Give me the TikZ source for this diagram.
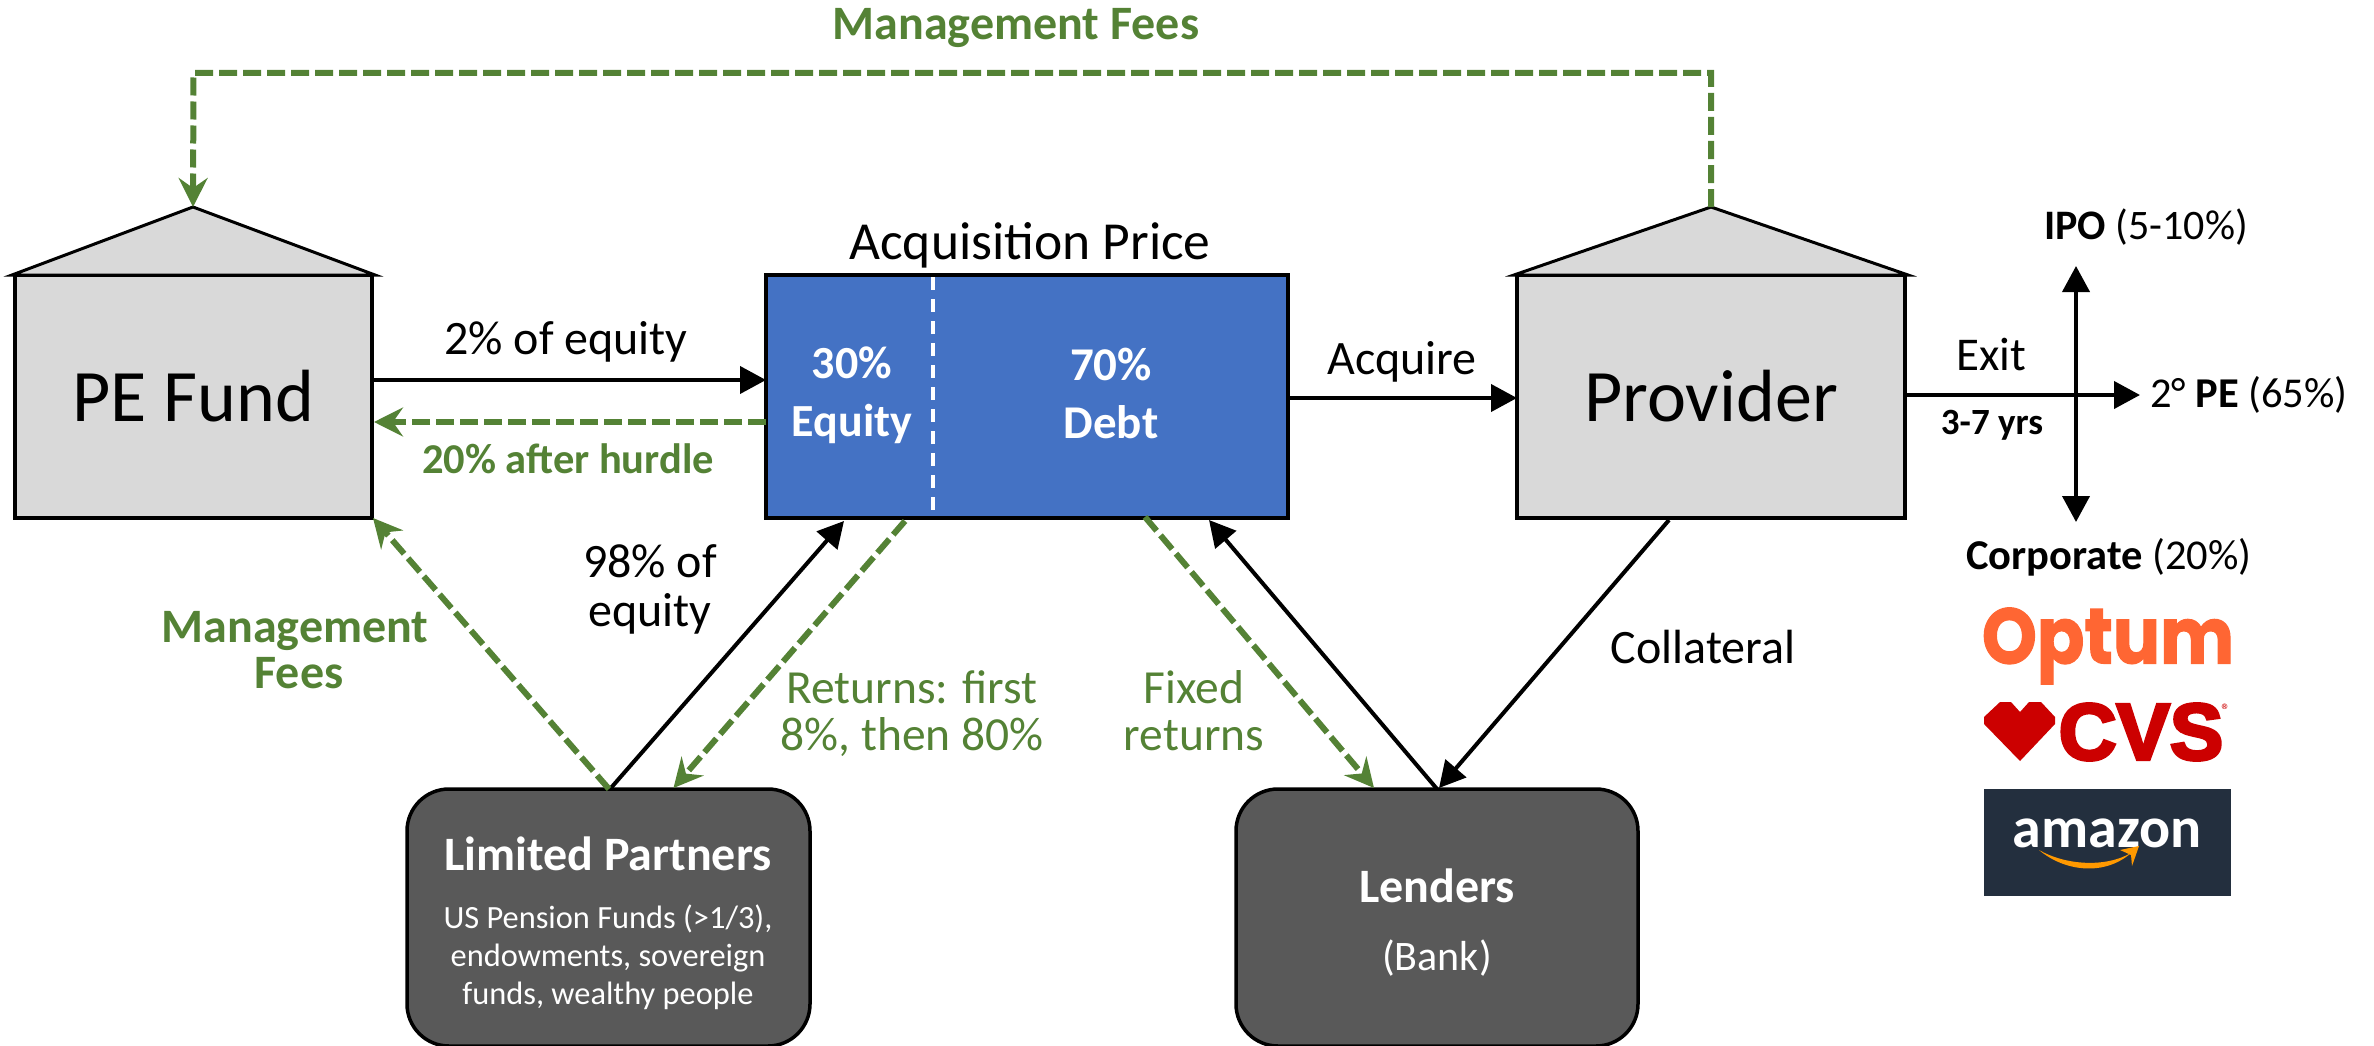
\documentclass[tikz,border=0pt]{standalone}
\usepackage{fontspec}
\setmainfont{Carlito}
\newfontfamily\optumfont[FakeBold=1.5]{Poppins}
\newfontfamily\cvsfont[FakeBold=4]{Liberation Sans}
\usetikzlibrary{arrows.meta,calc}
\definecolor{boxgray}{HTML}{D9D9D9}
\definecolor{boxblue}{HTML}{4472C4}
\definecolor{boxdark}{HTML}{595959}
\definecolor{feegreen}{HTML}{548235}
\definecolor{cvsred}{HTML}{CC0000}
\definecolor{optumorange}{HTML}{FF6633}
\definecolor{amznavy}{HTML}{232F3E}
\definecolor{amzorange}{HTML}{FF9900}
\newcommand{\fsz}[1]{\fontsize{#1}{#1}\selectfont}
\tikzset{
  x=1pt,y=-1pt,
  housebody/.style={draw=black,fill=boxgray,line width=3.5pt,inner sep=0pt,outer sep=0pt,font=\fsz{74}},
  roofshape/.style={draw=black,fill=boxgray,line width=3pt,line join=miter},
  pricebox/.style={draw=black,fill=boxblue,line width=3.5pt,inner sep=0pt,outer sep=0pt},
  partybox/.style={draw=black,fill=boxdark,line width=3.5pt,rounded corners=42pt,inner sep=0pt,outer sep=0pt},
  flow/.style={draw=black,line width=4pt,-{Triangle[length=26pt,width=27pt]}},
  fee/.style={draw=feegreen,line width=6pt,dash pattern=on 18pt off 6pt,-{Stealth[length=29pt,width=29pt,inset=10pt]}},
  lbl/.style={inner sep=0pt,outer sep=0pt,align=center,font=\fontsize{48}{48}\selectfont},
  lblgreen/.style={lbl,text=feegreen},
  lblwhite/.style={lbl,text=white},
}
\begin{document}
\begin{tikzpicture}
\useasboundingbox (0,0) rectangle (2374,1046);
% main nodes
\node[housebody,minimum width=357pt,minimum height=243pt] (pe) at (193.5,396.5) {PE Fund};
\node[housebody,minimum width=388pt,minimum height=243pt] (prov) at (1711,396.5) {Provider};
\node[pricebox,minimum width=522pt,minimum height=243pt] (price) at (1027,396.5) {};
\node[partybox,minimum width=403pt,minimum height=257pt] (lp) at (608.5,917.5) {};
\node[partybox,minimum width=402pt,minimum height=257pt] (bank) at (1437,917.5) {};
% roofs
\coordinate (peapex) at (193,207);
\coordinate (provapex) at (1711,207);
\draw[roofshape] ([xshift=-3pt]pe.north west) -- (peapex) -- ([xshift=3pt]pe.north east) -- cycle;
\draw[roofshape] ([xshift=-3pt]prov.north west) -- (provapex) -- ([xshift=3pt]prov.north east) -- cycle;
% divider
\draw[white,line width=3.5pt,dash pattern=on 13pt off 9pt] ([xshift=167pt,yshift=-2pt]price.north west) -- ([xshift=167pt,yshift=2pt]price.south west);
% management fee over the top
\draw[fee] (provapex) -- (prov.north |- 0,73) -- (pe.north |- 0,73) -- (peapex);
% horizontal flows
\draw[flow] ([yshift=16.5pt]pe.east) -- ([yshift=16.5pt]price.west);
\draw[fee] ([yshift=-25.5pt]price.west) -- ([yshift=-25.5pt,xshift=2pt]pe.east);
\draw[flow] ([yshift=-1.5pt]price.east) -- ([yshift=-1.5pt]prov.west);
% limited partners
\draw[flow] ([xshift=1.5pt]lp.north) -- ([xshift=78pt,yshift=-3pt]price.south west);
\draw[fee] ([xshift=139pt,yshift=-3pt]price.south west) -- ([xshift=65pt,yshift=1pt]lp.north);
\draw[fee] ([xshift=0.5pt]lp.north) -- ([xshift=1pt,yshift=0pt]pe.south east);
% lenders
\draw[fee] ([xshift=379pt,yshift=1pt]price.south west) -- ([xshift=-63pt,yshift=1pt]bank.north);
\draw[flow] (bank.north) -- ([xshift=443pt,yshift=-2pt]price.south west);
\draw[flow] ([xshift=152pt,yshift=-2pt]prov.south west) -- ([xshift=2pt,yshift=1pt]bank.north);
% exit
\coordinate (exitcross) at (2076,395);
\coordinate (exitend) at (2140,395);
\coordinate (exitup) at (2076,266);
\coordinate (exitdown) at (2076,522);
\draw[flow] ([yshift=1.5pt]prov.east) -- (exitend);
\draw[flow] (exitcross) -- (exitup);
\draw[flow] (exitcross) -- (exitdown);
% labels
\node[lblgreen,font=\bfseries\fontsize{48}{48}\selectfont] (topfee) at (1016,28) {Management Fees};
\node[lbl,font=\fontsize{53.5}{54}\selectfont] (pricelbl) at (1030,245) {Acquisition Price};
\node[lbl] (twopct) at (566,342) {2\% of equity};
\node[lblgreen,font=\bfseries\fontsize{42.5}{46}\selectfont] (hurdle) at (568,459) {20\% after hurdle};
\node[lblwhite,font=\bfseries\fontsize{46}{58}\selectfont] (eq) at (852,395) {30\%\\Equity};
\node[lblwhite,font=\bfseries\fontsize{47}{58}\selectfont] (debt) at (1111,393) {70\%\\Debt};
\node[lbl] (acq) at (1402,362) {Acquire};
\node[lbl,font=\fontsize{48}{49}\selectfont] (ninety) at (650,589) {98\% of\\equity};
\node[lblgreen,font=\fontsize{47.5}{47}\selectfont] (ret) at (912,714) {Returns: first\\8\%, then 80\%};
\node[lblgreen,font=\bfseries\fontsize{48}{46}\selectfont] (mgmt) at (295,650) {Management\\\hspace*{8pt}Fees};
\node[lblgreen,font=\fontsize{47.5}{47}\selectfont] (fixed) at (1194,711) {Fixed\\returns};
\node[lbl] (coll) at (1703,647) {Collateral};
\node[lblwhite,font=\bfseries\fontsize{48}{48}\selectfont] (lptitle) at (608,854) {Limited Partners};
\node[lblwhite,font=\fontsize{32.4}{38}\selectfont] (lpsub) at (608,957) {US Pension Funds (>1/3),\\endowments, sovereign\\funds, wealthy people};
\node[lblwhite,font=\bfseries\fontsize{48}{48}\selectfont] (lendt) at (1437,886) {Lenders};
\node[lblwhite,font=\fontsize{42}{46}\selectfont] (banksub) at (1437,958) {(Bank)};
\node[lbl,font=\fontsize{47}{48}\selectfont] (exitl) at (1991,355) {Exit};
\node[lbl,font=\bfseries\fontsize{37}{38}\selectfont] (yrs) at (1992,425) {3-7 yrs};
\node[lbl,font=\fontsize{42}{46}\selectfont] (ipo) at (2146,227) {\textbf{IPO} (5-10\%)};
\node[lbl,font=\fontsize{42.5}{46}\selectfont,anchor=west] (sec) at (2150,395) {2° \textbf{PE} (65\%)};
\node[lbl,font=\fontsize{42.5}{46}\selectfont] (corp) at (2109,557) {\textbf{Corporate} (20\%)};
% logos
\node[inner sep=0pt,text=optumorange,font=\optumfont\bfseries\fontsize{70}{74}\selectfont] (optum) at (2108,646) {\scalebox{1}[1.12]{Optum}};
\fill[cvsred] (1984,717) -- (2000,702) -- (2011,702) -- (2020,712) -- (2029,702) -- (2041,702) -- (2055,717) -- (2055,724) -- (2020,761) -- (1984,724) -- cycle;
\node[inner sep=0pt,font=\cvsfont\bfseries\fontsize{80}{86}\selectfont,text=cvsred] (cvs) at (2141,732) {CVS};
\node[inner sep=0pt,font=\fontsize{18}{18}\selectfont,text=cvsred] (reg) at (2226,710) {®};
\node[fill=amznavy,minimum width=247pt,minimum height=107pt,inner sep=0pt] (amz) at (2107.5,842.5) {};
\node[inner sep=0pt,text=white,font=\bfseries\fontsize{58}{60}\selectfont] (amzt) at (2107,833) {amazon};
\fill[amzorange] (2039,850) .. controls (2065,872) and (2105,876) .. (2131,853) .. controls (2105,868) and (2065,865) .. (2039,850) -- cycle;
\fill[amzorange] (2120,850) -- (2139,846) -- (2132,866) -- (2131,855) -- cycle;
\end{tikzpicture}
\end{document}
